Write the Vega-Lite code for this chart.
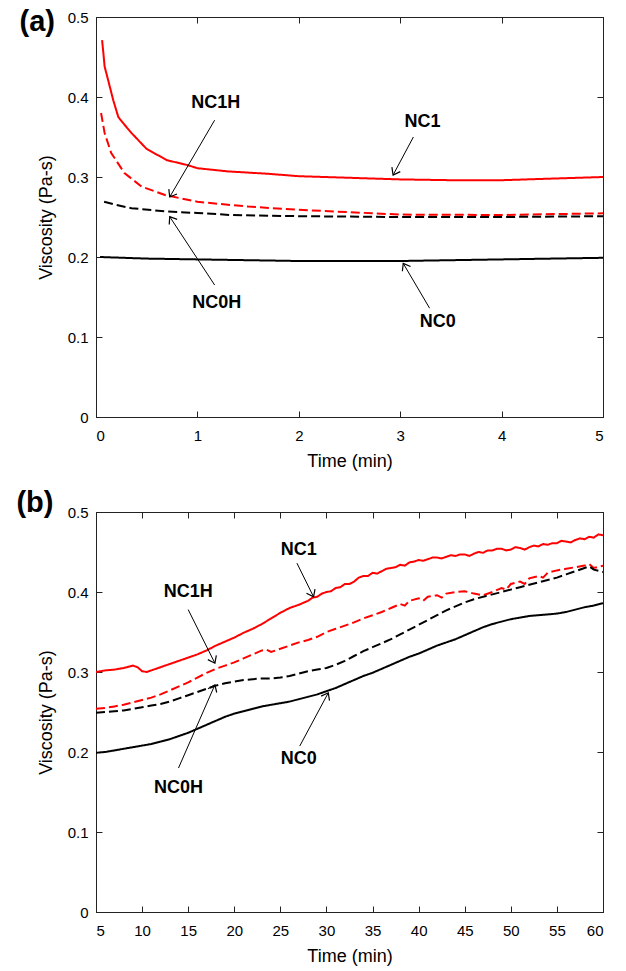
{
  "$schema": "https://vega.github.io/schema/vega-lite/v6.json",
  "padding": {"left": 15, "top": 7, "right": 6, "bottom": 5},
  "background": "white",
  "spacing": 95,
  "bounds": "flush",
  "config": {
    "font": "Liberation Sans",
    "view": {"stroke": "#222222", "strokeWidth": 1},
    "axis": {
      "domainColor": "#222222", "tickColor": "#222222", "labelColor": "black", "titleColor": "black",
      "labelFont": "Liberation Sans", "titleFont": "Liberation Sans",
      "labelFontSize": 15, "titleFontSize": 18, "titleFontWeight": "normal",
      "tickSize": -6, "labelPadding": 17, "grid": false, "format": "~g"
    }
  },
  "datasets": {
    "curves": [
      {"panel": "a", "series": "NC1", "t": 0.06, "v": 0.471},
      {"panel": "a", "series": "NC1", "t": 0.075, "v": 0.452},
      {"panel": "a", "series": "NC1", "t": 0.085, "v": 0.438},
      {"panel": "a", "series": "NC1", "t": 0.12, "v": 0.421},
      {"panel": "a", "series": "NC1", "t": 0.17, "v": 0.396},
      {"panel": "a", "series": "NC1", "t": 0.22, "v": 0.375},
      {"panel": "a", "series": "NC1", "t": 0.27, "v": 0.367},
      {"panel": "a", "series": "NC1", "t": 0.35, "v": 0.355},
      {"panel": "a", "series": "NC1", "t": 0.5, "v": 0.335},
      {"panel": "a", "series": "NC1", "t": 0.7, "v": 0.321},
      {"panel": "a", "series": "NC1", "t": 0.9, "v": 0.315},
      {"panel": "a", "series": "NC1", "t": 1.0, "v": 0.311},
      {"panel": "a", "series": "NC1", "t": 1.3, "v": 0.307},
      {"panel": "a", "series": "NC1", "t": 1.7, "v": 0.304},
      {"panel": "a", "series": "NC1", "t": 2.0, "v": 0.301},
      {"panel": "a", "series": "NC1", "t": 2.5, "v": 0.299},
      {"panel": "a", "series": "NC1", "t": 3.0, "v": 0.297},
      {"panel": "a", "series": "NC1", "t": 3.5, "v": 0.296},
      {"panel": "a", "series": "NC1", "t": 4.0, "v": 0.296},
      {"panel": "a", "series": "NC1", "t": 4.5, "v": 0.298},
      {"panel": "a", "series": "NC1", "t": 5.0, "v": 0.3},
      {"panel": "a", "series": "NC1H", "t": 0.05, "v": 0.38},
      {"panel": "a", "series": "NC1H", "t": 0.085, "v": 0.355},
      {"panel": "a", "series": "NC1H", "t": 0.15, "v": 0.33},
      {"panel": "a", "series": "NC1H", "t": 0.28, "v": 0.305},
      {"panel": "a", "series": "NC1H", "t": 0.45, "v": 0.288},
      {"panel": "a", "series": "NC1H", "t": 0.68, "v": 0.2775},
      {"panel": "a", "series": "NC1H", "t": 1.0, "v": 0.269},
      {"panel": "a", "series": "NC1H", "t": 1.5, "v": 0.263},
      {"panel": "a", "series": "NC1H", "t": 2.0, "v": 0.259},
      {"panel": "a", "series": "NC1H", "t": 2.5, "v": 0.256},
      {"panel": "a", "series": "NC1H", "t": 3.0, "v": 0.253},
      {"panel": "a", "series": "NC1H", "t": 4.0, "v": 0.2525},
      {"panel": "a", "series": "NC1H", "t": 5.0, "v": 0.2546},
      {"panel": "a", "series": "NC0H", "t": 0.08, "v": 0.269},
      {"panel": "a", "series": "NC0H", "t": 0.2, "v": 0.265},
      {"panel": "a", "series": "NC0H", "t": 0.35, "v": 0.261},
      {"panel": "a", "series": "NC0H", "t": 0.68, "v": 0.257},
      {"panel": "a", "series": "NC0H", "t": 1.0, "v": 0.255},
      {"panel": "a", "series": "NC0H", "t": 1.33, "v": 0.2525},
      {"panel": "a", "series": "NC0H", "t": 2.0, "v": 0.251},
      {"panel": "a", "series": "NC0H", "t": 3.0, "v": 0.25},
      {"panel": "a", "series": "NC0H", "t": 4.0, "v": 0.25},
      {"panel": "a", "series": "NC0H", "t": 5.0, "v": 0.251},
      {"panel": "a", "series": "NC0", "t": 0.04, "v": 0.2},
      {"panel": "a", "series": "NC0", "t": 0.5, "v": 0.198},
      {"panel": "a", "series": "NC0", "t": 1.0, "v": 0.197},
      {"panel": "a", "series": "NC0", "t": 2.0, "v": 0.195},
      {"panel": "a", "series": "NC0", "t": 3.0, "v": 0.195},
      {"panel": "a", "series": "NC0", "t": 4.0, "v": 0.197},
      {"panel": "a", "series": "NC0", "t": 5.0, "v": 0.199},

      {"panel": "b", "series": "NC1", "t": 5, "v": 0.3},
      {"panel": "b", "series": "NC1", "t": 6, "v": 0.302},
      {"panel": "b", "series": "NC1", "t": 7, "v": 0.303},
      {"panel": "b", "series": "NC1", "t": 8, "v": 0.305},
      {"panel": "b", "series": "NC1", "t": 9, "v": 0.308},
      {"panel": "b", "series": "NC1", "t": 9.5, "v": 0.306},
      {"panel": "b", "series": "NC1", "t": 10, "v": 0.301},
      {"panel": "b", "series": "NC1", "t": 10.5, "v": 0.3},
      {"panel": "b", "series": "NC1", "t": 11, "v": 0.302},
      {"panel": "b", "series": "NC1", "t": 12, "v": 0.306},
      {"panel": "b", "series": "NC1", "t": 13, "v": 0.31},
      {"panel": "b", "series": "NC1", "t": 14, "v": 0.314},
      {"panel": "b", "series": "NC1", "t": 15, "v": 0.318},
      {"panel": "b", "series": "NC1", "t": 16, "v": 0.322},
      {"panel": "b", "series": "NC1", "t": 17, "v": 0.327},
      {"panel": "b", "series": "NC1", "t": 18, "v": 0.333},
      {"panel": "b", "series": "NC1", "t": 19, "v": 0.338},
      {"panel": "b", "series": "NC1", "t": 20, "v": 0.343},
      {"panel": "b", "series": "NC1", "t": 21, "v": 0.349},
      {"panel": "b", "series": "NC1", "t": 22, "v": 0.354},
      {"panel": "b", "series": "NC1", "t": 23, "v": 0.36},
      {"panel": "b", "series": "NC1", "t": 24, "v": 0.367},
      {"panel": "b", "series": "NC1", "t": 25, "v": 0.374},
      {"panel": "b", "series": "NC1", "t": 26, "v": 0.38},
      {"panel": "b", "series": "NC1", "t": 27, "v": 0.384},
      {"panel": "b", "series": "NC1", "t": 28, "v": 0.389},
      {"panel": "b", "series": "NC1", "t": 28.5, "v": 0.393},
      {"panel": "b", "series": "NC1", "t": 29, "v": 0.394},
      {"panel": "b", "series": "NC1", "t": 29.5, "v": 0.398},
      {"panel": "b", "series": "NC1", "t": 30, "v": 0.4},
      {"panel": "b", "series": "NC1", "t": 30.5, "v": 0.401},
      {"panel": "b", "series": "NC1", "t": 31, "v": 0.405},
      {"panel": "b", "series": "NC1", "t": 31.5, "v": 0.406},
      {"panel": "b", "series": "NC1", "t": 32, "v": 0.41},
      {"panel": "b", "series": "NC1", "t": 32.5, "v": 0.41},
      {"panel": "b", "series": "NC1", "t": 33, "v": 0.413},
      {"panel": "b", "series": "NC1", "t": 33.5, "v": 0.418},
      {"panel": "b", "series": "NC1", "t": 34, "v": 0.42},
      {"panel": "b", "series": "NC1", "t": 34.5, "v": 0.42},
      {"panel": "b", "series": "NC1", "t": 35, "v": 0.424},
      {"panel": "b", "series": "NC1", "t": 35.5, "v": 0.423},
      {"panel": "b", "series": "NC1", "t": 36, "v": 0.426},
      {"panel": "b", "series": "NC1", "t": 36.5, "v": 0.429},
      {"panel": "b", "series": "NC1", "t": 37, "v": 0.43},
      {"panel": "b", "series": "NC1", "t": 37.5, "v": 0.431},
      {"panel": "b", "series": "NC1", "t": 38, "v": 0.434},
      {"panel": "b", "series": "NC1", "t": 38.5, "v": 0.433},
      {"panel": "b", "series": "NC1", "t": 39, "v": 0.437},
      {"panel": "b", "series": "NC1", "t": 39.5, "v": 0.438},
      {"panel": "b", "series": "NC1", "t": 40, "v": 0.44},
      {"panel": "b", "series": "NC1", "t": 40.5, "v": 0.439},
      {"panel": "b", "series": "NC1", "t": 41, "v": 0.441},
      {"panel": "b", "series": "NC1", "t": 41.5, "v": 0.443},
      {"panel": "b", "series": "NC1", "t": 42, "v": 0.443},
      {"panel": "b", "series": "NC1", "t": 42.5, "v": 0.442},
      {"panel": "b", "series": "NC1", "t": 43, "v": 0.444},
      {"panel": "b", "series": "NC1", "t": 43.5, "v": 0.446},
      {"panel": "b", "series": "NC1", "t": 44, "v": 0.445},
      {"panel": "b", "series": "NC1", "t": 44.5, "v": 0.447},
      {"panel": "b", "series": "NC1", "t": 45, "v": 0.447},
      {"panel": "b", "series": "NC1", "t": 45.5, "v": 0.445},
      {"panel": "b", "series": "NC1", "t": 46, "v": 0.448},
      {"panel": "b", "series": "NC1", "t": 46.5, "v": 0.45},
      {"panel": "b", "series": "NC1", "t": 47, "v": 0.449},
      {"panel": "b", "series": "NC1", "t": 47.5, "v": 0.452},
      {"panel": "b", "series": "NC1", "t": 48, "v": 0.452},
      {"panel": "b", "series": "NC1", "t": 48.5, "v": 0.454},
      {"panel": "b", "series": "NC1", "t": 49, "v": 0.454},
      {"panel": "b", "series": "NC1", "t": 49.5, "v": 0.452},
      {"panel": "b", "series": "NC1", "t": 50, "v": 0.453},
      {"panel": "b", "series": "NC1", "t": 50.5, "v": 0.456},
      {"panel": "b", "series": "NC1", "t": 51, "v": 0.455},
      {"panel": "b", "series": "NC1", "t": 51.5, "v": 0.453},
      {"panel": "b", "series": "NC1", "t": 52, "v": 0.456},
      {"panel": "b", "series": "NC1", "t": 52.5, "v": 0.458},
      {"panel": "b", "series": "NC1", "t": 53, "v": 0.457},
      {"panel": "b", "series": "NC1", "t": 53.5, "v": 0.46},
      {"panel": "b", "series": "NC1", "t": 54, "v": 0.459},
      {"panel": "b", "series": "NC1", "t": 54.5, "v": 0.461},
      {"panel": "b", "series": "NC1", "t": 55, "v": 0.461},
      {"panel": "b", "series": "NC1", "t": 55.5, "v": 0.464},
      {"panel": "b", "series": "NC1", "t": 56, "v": 0.463},
      {"panel": "b", "series": "NC1", "t": 56.5, "v": 0.462},
      {"panel": "b", "series": "NC1", "t": 57, "v": 0.465},
      {"panel": "b", "series": "NC1", "t": 57.5, "v": 0.467},
      {"panel": "b", "series": "NC1", "t": 58, "v": 0.466},
      {"panel": "b", "series": "NC1", "t": 58.5, "v": 0.469},
      {"panel": "b", "series": "NC1", "t": 59, "v": 0.468},
      {"panel": "b", "series": "NC1", "t": 59.5, "v": 0.472},
      {"panel": "b", "series": "NC1", "t": 60, "v": 0.471},

      {"panel": "b", "series": "NC1H", "t": 5, "v": 0.254},
      {"panel": "b", "series": "NC1H", "t": 6, "v": 0.255},
      {"panel": "b", "series": "NC1H", "t": 7, "v": 0.257},
      {"panel": "b", "series": "NC1H", "t": 8, "v": 0.259},
      {"panel": "b", "series": "NC1H", "t": 9, "v": 0.262},
      {"panel": "b", "series": "NC1H", "t": 10, "v": 0.265},
      {"panel": "b", "series": "NC1H", "t": 11, "v": 0.268},
      {"panel": "b", "series": "NC1H", "t": 12, "v": 0.272},
      {"panel": "b", "series": "NC1H", "t": 13, "v": 0.277},
      {"panel": "b", "series": "NC1H", "t": 14, "v": 0.282},
      {"panel": "b", "series": "NC1H", "t": 15, "v": 0.287},
      {"panel": "b", "series": "NC1H", "t": 16, "v": 0.293},
      {"panel": "b", "series": "NC1H", "t": 17, "v": 0.299},
      {"panel": "b", "series": "NC1H", "t": 18, "v": 0.304},
      {"panel": "b", "series": "NC1H", "t": 19, "v": 0.308},
      {"panel": "b", "series": "NC1H", "t": 20, "v": 0.312},
      {"panel": "b", "series": "NC1H", "t": 21, "v": 0.317},
      {"panel": "b", "series": "NC1H", "t": 22, "v": 0.322},
      {"panel": "b", "series": "NC1H", "t": 23, "v": 0.327},
      {"panel": "b", "series": "NC1H", "t": 23.5, "v": 0.328},
      {"panel": "b", "series": "NC1H", "t": 24, "v": 0.325},
      {"panel": "b", "series": "NC1H", "t": 25, "v": 0.329},
      {"panel": "b", "series": "NC1H", "t": 26, "v": 0.333},
      {"panel": "b", "series": "NC1H", "t": 27, "v": 0.337},
      {"panel": "b", "series": "NC1H", "t": 28, "v": 0.34},
      {"panel": "b", "series": "NC1H", "t": 29, "v": 0.344},
      {"panel": "b", "series": "NC1H", "t": 30, "v": 0.35},
      {"panel": "b", "series": "NC1H", "t": 31, "v": 0.354},
      {"panel": "b", "series": "NC1H", "t": 32, "v": 0.358},
      {"panel": "b", "series": "NC1H", "t": 33, "v": 0.362},
      {"panel": "b", "series": "NC1H", "t": 34, "v": 0.367},
      {"panel": "b", "series": "NC1H", "t": 35, "v": 0.371},
      {"panel": "b", "series": "NC1H", "t": 36, "v": 0.375},
      {"panel": "b", "series": "NC1H", "t": 37, "v": 0.38},
      {"panel": "b", "series": "NC1H", "t": 38, "v": 0.385},
      {"panel": "b", "series": "NC1H", "t": 38.5, "v": 0.383},
      {"panel": "b", "series": "NC1H", "t": 39, "v": 0.389},
      {"panel": "b", "series": "NC1H", "t": 40, "v": 0.392},
      {"panel": "b", "series": "NC1H", "t": 40.5, "v": 0.389},
      {"panel": "b", "series": "NC1H", "t": 41, "v": 0.394},
      {"panel": "b", "series": "NC1H", "t": 42, "v": 0.396},
      {"panel": "b", "series": "NC1H", "t": 42.5, "v": 0.393},
      {"panel": "b", "series": "NC1H", "t": 43, "v": 0.398},
      {"panel": "b", "series": "NC1H", "t": 44, "v": 0.4},
      {"panel": "b", "series": "NC1H", "t": 45, "v": 0.401},
      {"panel": "b", "series": "NC1H", "t": 46, "v": 0.398},
      {"panel": "b", "series": "NC1H", "t": 47, "v": 0.396},
      {"panel": "b", "series": "NC1H", "t": 48, "v": 0.4},
      {"panel": "b", "series": "NC1H", "t": 49, "v": 0.405},
      {"panel": "b", "series": "NC1H", "t": 49.5, "v": 0.403},
      {"panel": "b", "series": "NC1H", "t": 50, "v": 0.41},
      {"panel": "b", "series": "NC1H", "t": 51, "v": 0.413},
      {"panel": "b", "series": "NC1H", "t": 51.5, "v": 0.41},
      {"panel": "b", "series": "NC1H", "t": 52, "v": 0.417},
      {"panel": "b", "series": "NC1H", "t": 53, "v": 0.42},
      {"panel": "b", "series": "NC1H", "t": 53.5, "v": 0.418},
      {"panel": "b", "series": "NC1H", "t": 54, "v": 0.424},
      {"panel": "b", "series": "NC1H", "t": 55, "v": 0.427},
      {"panel": "b", "series": "NC1H", "t": 56, "v": 0.429},
      {"panel": "b", "series": "NC1H", "t": 57, "v": 0.431},
      {"panel": "b", "series": "NC1H", "t": 58, "v": 0.433},
      {"panel": "b", "series": "NC1H", "t": 58.5, "v": 0.435},
      {"panel": "b", "series": "NC1H", "t": 59, "v": 0.43},
      {"panel": "b", "series": "NC1H", "t": 60, "v": 0.433},

      {"panel": "b", "series": "NC0H", "t": 5, "v": 0.249},
      {"panel": "b", "series": "NC0H", "t": 6, "v": 0.25},
      {"panel": "b", "series": "NC0H", "t": 7, "v": 0.251},
      {"panel": "b", "series": "NC0H", "t": 8, "v": 0.252},
      {"panel": "b", "series": "NC0H", "t": 9, "v": 0.254},
      {"panel": "b", "series": "NC0H", "t": 10, "v": 0.256},
      {"panel": "b", "series": "NC0H", "t": 11, "v": 0.258},
      {"panel": "b", "series": "NC0H", "t": 12, "v": 0.26},
      {"panel": "b", "series": "NC0H", "t": 13, "v": 0.263},
      {"panel": "b", "series": "NC0H", "t": 14, "v": 0.267},
      {"panel": "b", "series": "NC0H", "t": 15, "v": 0.271},
      {"panel": "b", "series": "NC0H", "t": 16, "v": 0.275},
      {"panel": "b", "series": "NC0H", "t": 17, "v": 0.279},
      {"panel": "b", "series": "NC0H", "t": 18, "v": 0.283},
      {"panel": "b", "series": "NC0H", "t": 19, "v": 0.286},
      {"panel": "b", "series": "NC0H", "t": 20, "v": 0.288},
      {"panel": "b", "series": "NC0H", "t": 21, "v": 0.29},
      {"panel": "b", "series": "NC0H", "t": 22, "v": 0.291},
      {"panel": "b", "series": "NC0H", "t": 23, "v": 0.292},
      {"panel": "b", "series": "NC0H", "t": 24, "v": 0.292},
      {"panel": "b", "series": "NC0H", "t": 25, "v": 0.293},
      {"panel": "b", "series": "NC0H", "t": 26, "v": 0.295},
      {"panel": "b", "series": "NC0H", "t": 27, "v": 0.298},
      {"panel": "b", "series": "NC0H", "t": 28, "v": 0.301},
      {"panel": "b", "series": "NC0H", "t": 29, "v": 0.303},
      {"panel": "b", "series": "NC0H", "t": 30, "v": 0.305},
      {"panel": "b", "series": "NC0H", "t": 31, "v": 0.309},
      {"panel": "b", "series": "NC0H", "t": 32, "v": 0.314},
      {"panel": "b", "series": "NC0H", "t": 33, "v": 0.32},
      {"panel": "b", "series": "NC0H", "t": 34, "v": 0.326},
      {"panel": "b", "series": "NC0H", "t": 35, "v": 0.331},
      {"panel": "b", "series": "NC0H", "t": 36, "v": 0.336},
      {"panel": "b", "series": "NC0H", "t": 37, "v": 0.341},
      {"panel": "b", "series": "NC0H", "t": 38, "v": 0.347},
      {"panel": "b", "series": "NC0H", "t": 39, "v": 0.353},
      {"panel": "b", "series": "NC0H", "t": 40, "v": 0.359},
      {"panel": "b", "series": "NC0H", "t": 41, "v": 0.365},
      {"panel": "b", "series": "NC0H", "t": 42, "v": 0.371},
      {"panel": "b", "series": "NC0H", "t": 43, "v": 0.377},
      {"panel": "b", "series": "NC0H", "t": 44, "v": 0.382},
      {"panel": "b", "series": "NC0H", "t": 45, "v": 0.387},
      {"panel": "b", "series": "NC0H", "t": 46, "v": 0.391},
      {"panel": "b", "series": "NC0H", "t": 47, "v": 0.394},
      {"panel": "b", "series": "NC0H", "t": 48, "v": 0.397},
      {"panel": "b", "series": "NC0H", "t": 49, "v": 0.4},
      {"panel": "b", "series": "NC0H", "t": 50, "v": 0.403},
      {"panel": "b", "series": "NC0H", "t": 51, "v": 0.406},
      {"panel": "b", "series": "NC0H", "t": 52, "v": 0.409},
      {"panel": "b", "series": "NC0H", "t": 53, "v": 0.412},
      {"panel": "b", "series": "NC0H", "t": 54, "v": 0.415},
      {"panel": "b", "series": "NC0H", "t": 55, "v": 0.418},
      {"panel": "b", "series": "NC0H", "t": 56, "v": 0.422},
      {"panel": "b", "series": "NC0H", "t": 57, "v": 0.426},
      {"panel": "b", "series": "NC0H", "t": 58, "v": 0.43},
      {"panel": "b", "series": "NC0H", "t": 58.5, "v": 0.432},
      {"panel": "b", "series": "NC0H", "t": 59, "v": 0.428},
      {"panel": "b", "series": "NC0H", "t": 60, "v": 0.425},

      {"panel": "b", "series": "NC0", "t": 5, "v": 0.199},
      {"panel": "b", "series": "NC0", "t": 6, "v": 0.2},
      {"panel": "b", "series": "NC0", "t": 7, "v": 0.202},
      {"panel": "b", "series": "NC0", "t": 8, "v": 0.204},
      {"panel": "b", "series": "NC0", "t": 9, "v": 0.206},
      {"panel": "b", "series": "NC0", "t": 10, "v": 0.208},
      {"panel": "b", "series": "NC0", "t": 11, "v": 0.21},
      {"panel": "b", "series": "NC0", "t": 12, "v": 0.213},
      {"panel": "b", "series": "NC0", "t": 13, "v": 0.216},
      {"panel": "b", "series": "NC0", "t": 14, "v": 0.22},
      {"panel": "b", "series": "NC0", "t": 15, "v": 0.224},
      {"panel": "b", "series": "NC0", "t": 16, "v": 0.229},
      {"panel": "b", "series": "NC0", "t": 17, "v": 0.234},
      {"panel": "b", "series": "NC0", "t": 18, "v": 0.239},
      {"panel": "b", "series": "NC0", "t": 19, "v": 0.244},
      {"panel": "b", "series": "NC0", "t": 20, "v": 0.248},
      {"panel": "b", "series": "NC0", "t": 21, "v": 0.251},
      {"panel": "b", "series": "NC0", "t": 22, "v": 0.254},
      {"panel": "b", "series": "NC0", "t": 23, "v": 0.257},
      {"panel": "b", "series": "NC0", "t": 24, "v": 0.259},
      {"panel": "b", "series": "NC0", "t": 25, "v": 0.261},
      {"panel": "b", "series": "NC0", "t": 26, "v": 0.263},
      {"panel": "b", "series": "NC0", "t": 27, "v": 0.266},
      {"panel": "b", "series": "NC0", "t": 28, "v": 0.269},
      {"panel": "b", "series": "NC0", "t": 29, "v": 0.272},
      {"panel": "b", "series": "NC0", "t": 30, "v": 0.276},
      {"panel": "b", "series": "NC0", "t": 31, "v": 0.28},
      {"panel": "b", "series": "NC0", "t": 32, "v": 0.285},
      {"panel": "b", "series": "NC0", "t": 33, "v": 0.29},
      {"panel": "b", "series": "NC0", "t": 34, "v": 0.295},
      {"panel": "b", "series": "NC0", "t": 35, "v": 0.299},
      {"panel": "b", "series": "NC0", "t": 36, "v": 0.304},
      {"panel": "b", "series": "NC0", "t": 37, "v": 0.309},
      {"panel": "b", "series": "NC0", "t": 38, "v": 0.314},
      {"panel": "b", "series": "NC0", "t": 39, "v": 0.319},
      {"panel": "b", "series": "NC0", "t": 40, "v": 0.323},
      {"panel": "b", "series": "NC0", "t": 41, "v": 0.328},
      {"panel": "b", "series": "NC0", "t": 42, "v": 0.333},
      {"panel": "b", "series": "NC0", "t": 43, "v": 0.337},
      {"panel": "b", "series": "NC0", "t": 44, "v": 0.341},
      {"panel": "b", "series": "NC0", "t": 45, "v": 0.346},
      {"panel": "b", "series": "NC0", "t": 46, "v": 0.351},
      {"panel": "b", "series": "NC0", "t": 47, "v": 0.356},
      {"panel": "b", "series": "NC0", "t": 48, "v": 0.36},
      {"panel": "b", "series": "NC0", "t": 49, "v": 0.363},
      {"panel": "b", "series": "NC0", "t": 50, "v": 0.366},
      {"panel": "b", "series": "NC0", "t": 51, "v": 0.368},
      {"panel": "b", "series": "NC0", "t": 52, "v": 0.37},
      {"panel": "b", "series": "NC0", "t": 53, "v": 0.371},
      {"panel": "b", "series": "NC0", "t": 54, "v": 0.372},
      {"panel": "b", "series": "NC0", "t": 55, "v": 0.373},
      {"panel": "b", "series": "NC0", "t": 56, "v": 0.375},
      {"panel": "b", "series": "NC0", "t": 57, "v": 0.378},
      {"panel": "b", "series": "NC0", "t": 58, "v": 0.381},
      {"panel": "b", "series": "NC0", "t": 59, "v": 0.383},
      {"panel": "b", "series": "NC0", "t": 60, "v": 0.386}
    ],
    "notes": [
      {"panel": "a", "label": "NC1H", "lx": 1.18, "ly": 0.392, "x1": 1.17, "y1": 0.371, "x2": 0.727, "y2": 0.275},
      {"panel": "a", "label": "NC0H", "lx": 1.19, "ly": 0.142, "x1": 1.17, "y1": 0.165, "x2": 0.727, "y2": 0.2504},
      {"panel": "a", "label": "NC1", "lx": 3.22, "ly": 0.369, "x1": 3.13, "y1": 0.35, "x2": 2.93, "y2": 0.3025},
      {"panel": "a", "label": "NC0", "lx": 3.37, "ly": 0.119, "x1": 3.29, "y1": 0.136, "x2": 3.03, "y2": 0.192},
      {"panel": "b", "label": "NC1", "lx": 27.0, "ly": 0.4526, "x1": 26.8, "y1": 0.436, "x2": 28.6, "y2": 0.394},
      {"panel": "b", "label": "NC1H", "lx": 15.0, "ly": 0.4006, "x1": 15.0, "y1": 0.378, "x2": 17.9, "y2": 0.311},
      {"panel": "b", "label": "NC0H", "lx": 13.95, "ly": 0.1555, "x1": 13.95, "y1": 0.18, "x2": 17.9, "y2": 0.284},
      {"panel": "b", "label": "NC0", "lx": 27.0, "ly": 0.1908, "x1": 27.1, "y1": 0.2074, "x2": 30.2, "y2": 0.274}
    ],
    "tags": [
      {"panel": "a", "tag": "(a)", "t": -0.58, "v": 0.4825},
      {"panel": "b", "tag": "(b)", "t": -1.62, "v": 0.5}
    ]
  },
  "vconcat": [
    {
      "width": 507, "height": 400,
      "resolve": {"axis": {"x": "independent", "y": "independent"}},
      "layer": [
        {
          "data": {"name": "curves"},
          "transform": [{"filter": "datum.panel === 'a'"}],
          "mark": {"type": "line", "strokeWidth": 2, "clip": true},
          "encoding": {
            "x": {"field": "t", "type": "quantitative", "scale": {"domain": [0, 5], "nice": false},
                  "axis": {"title": "Time (min)", "values": [0, 1, 2, 3, 4, 5], "titlePadding": 9}},
            "y": {"field": "v", "type": "quantitative", "scale": {"domain": [0, 0.5], "nice": false},
                  "axis": {"title": "Viscosity (Pa-s)", "values": [0, 0.1, 0.2, 0.3, 0.4, 0.5], "labelPadding": 14, "titlePadding": 12}},
            "color": {"field": "series", "type": "nominal", "legend": null,
                      "scale": {"domain": ["NC1", "NC1H", "NC0H", "NC0"], "range": ["#ff0000", "#ff0000", "#000000", "#000000"]}},
            "strokeDash": {"field": "series", "type": "nominal", "legend": null,
                      "scale": {"domain": ["NC1", "NC1H", "NC0H", "NC0"], "range": [[1, 0], [9, 4], [9, 4], [1, 0]]}},
            "order": {"field": "t", "type": "quantitative"}
          }
        },
        {
          "data": {"name": "notes"},
          "transform": [{"filter": "datum.panel === 'a'"}],
          "mark": {"type": "rule", "color": "black", "strokeWidth": 1},
          "encoding": {
            "x": {"field": "x1", "type": "quantitative", "axis": {"orient": "top", "labels": false, "title": null, "values": [0, 1, 2, 3, 4, 5]}},
            "y": {"field": "y1", "type": "quantitative", "axis": {"orient": "right", "labels": false, "title": null, "values": [0, 0.1, 0.2, 0.3, 0.4, 0.5]}},
            "x2": {"field": "x2"},
            "y2": {"field": "y2"}
          }
        },
        {
          "data": {"name": "notes"},
          "transform": [
            {"filter": "datum.panel === 'a'"},
            {"calculate": "atan2(-(datum.y2 - datum.y1) * 800, (datum.x2 - datum.x1) * 101.4) * 180 / PI", "as": "ang"}
          ],
          "mark": {"type": "point", "shape": "M -1 -0.75 L 0 0 L -1 0.75", "filled": false, "color": "black", "strokeWidth": 1.2, "size": 160, "opacity": 1},
          "encoding": {
            "x": {"field": "x2", "type": "quantitative", "axis": null},
            "y": {"field": "y2", "type": "quantitative", "axis": null},
            "angle": {"field": "ang", "type": "quantitative", "scale": null}
          }
        },
        {
          "data": {"name": "notes"},
          "transform": [{"filter": "datum.panel === 'a'"}],
          "mark": {"type": "text", "font": "Liberation Sans", "fontWeight": "bold", "fontSize": 18, "align": "center", "baseline": "middle", "color": "black"},
          "encoding": {
            "x": {"field": "lx", "type": "quantitative", "axis": null},
            "y": {"field": "ly", "type": "quantitative", "axis": null},
            "text": {"field": "label"}
          }
        },
        {
          "data": {"name": "tags"},
          "transform": [{"filter": "datum.panel === 'a'"}],
          "mark": {"type": "text", "font": "Liberation Sans", "fontWeight": "bold", "fontSize": 29, "align": "center", "baseline": "alphabetic", "color": "black", "clip": false},
          "encoding": {
            "x": {"field": "t", "type": "quantitative", "axis": null},
            "y": {"field": "v", "type": "quantitative", "axis": null},
            "text": {"field": "tag"}
          }
        }
      ]
    },
    {
      "width": 507, "height": 400,
      "resolve": {"axis": {"x": "independent", "y": "independent"}},
      "layer": [
        {
          "data": {"name": "curves"},
          "transform": [{"filter": "datum.panel === 'b'"}],
          "mark": {"type": "line", "strokeWidth": 2, "clip": true},
          "encoding": {
            "x": {"field": "t", "type": "quantitative", "scale": {"domain": [5, 60], "nice": false},
                  "axis": {"title": "Time (min)", "values": [5, 10, 15, 20, 25, 30, 35, 40, 45, 50, 55, 60], "titlePadding": 9}},
            "y": {"field": "v", "type": "quantitative", "scale": {"domain": [0, 0.5], "nice": false},
                  "axis": {"title": "Viscosity (Pa-s)", "values": [0, 0.1, 0.2, 0.3, 0.4, 0.5], "labelPadding": 14, "titlePadding": 12}},
            "color": {"field": "series", "type": "nominal", "legend": null,
                      "scale": {"domain": ["NC1", "NC1H", "NC0H", "NC0"], "range": ["#ff0000", "#ff0000", "#000000", "#000000"]}},
            "strokeDash": {"field": "series", "type": "nominal", "legend": null,
                      "scale": {"domain": ["NC1", "NC1H", "NC0H", "NC0"], "range": [[1, 0], [9, 4], [9, 4], [1, 0]]}},
            "order": {"field": "t", "type": "quantitative"}
          }
        },
        {
          "data": {"name": "notes"},
          "transform": [{"filter": "datum.panel === 'b'"}],
          "mark": {"type": "rule", "color": "black", "strokeWidth": 1},
          "encoding": {
            "x": {"field": "x1", "type": "quantitative", "axis": {"orient": "top", "labels": false, "title": null, "values": [5, 10, 15, 20, 25, 30, 35, 40, 45, 50, 55, 60]}},
            "y": {"field": "y1", "type": "quantitative", "axis": {"orient": "right", "labels": false, "title": null, "values": [0, 0.1, 0.2, 0.3, 0.4, 0.5]}},
            "x2": {"field": "x2"},
            "y2": {"field": "y2"}
          }
        },
        {
          "data": {"name": "notes"},
          "transform": [
            {"filter": "datum.panel === 'b'"},
            {"calculate": "atan2(-(datum.y2 - datum.y1) * 800, (datum.x2 - datum.x1) * 9.218) * 180 / PI", "as": "ang"}
          ],
          "mark": {"type": "point", "shape": "M -1 -0.75 L 0 0 L -1 0.75", "filled": false, "color": "black", "strokeWidth": 1.2, "size": 160, "opacity": 1},
          "encoding": {
            "x": {"field": "x2", "type": "quantitative", "axis": null},
            "y": {"field": "y2", "type": "quantitative", "axis": null},
            "angle": {"field": "ang", "type": "quantitative", "scale": null}
          }
        },
        {
          "data": {"name": "notes"},
          "transform": [{"filter": "datum.panel === 'b'"}],
          "mark": {"type": "text", "font": "Liberation Sans", "fontWeight": "bold", "fontSize": 18, "align": "center", "baseline": "middle", "color": "black"},
          "encoding": {
            "x": {"field": "lx", "type": "quantitative", "axis": null},
            "y": {"field": "ly", "type": "quantitative", "axis": null},
            "text": {"field": "label"}
          }
        },
        {
          "data": {"name": "tags"},
          "transform": [{"filter": "datum.panel === 'b'"}],
          "mark": {"type": "text", "font": "Liberation Sans", "fontWeight": "bold", "fontSize": 29, "align": "center", "baseline": "alphabetic", "color": "black", "clip": false},
          "encoding": {
            "x": {"field": "t", "type": "quantitative", "axis": null},
            "y": {"field": "v", "type": "quantitative", "axis": null},
            "text": {"field": "tag"}
          }
        }
      ]
    }
  ]
}
